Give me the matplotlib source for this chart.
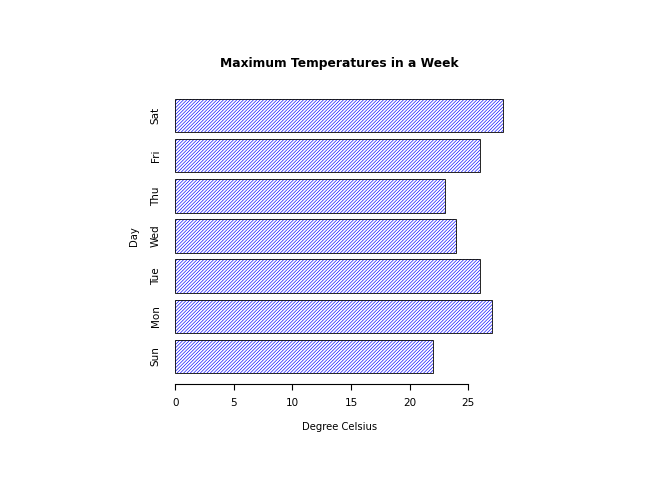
import matplotlib
matplotlib.use('Agg')
import matplotlib.pyplot as plt
import numpy as np

days = ['Sun', 'Mon', 'Tue', 'Wed', 'Thu', 'Fri', 'Sat']
max_temp = [22, 27, 26, 24, 23, 26, 28]
x_ticks = [0, 5, 10, 15, 20, 25]

plt.rcParams['hatch.linewidth'] = 0.45

fig = plt.figure(figsize=(6.54, 4.82), dpi=100)
ax = fig.add_axes([162 / 654, 98 / 482, 354.5 / 654, 296 / 482])

# R barplot layout: width 1, space 0.2
ypos = 0.7 + 1.2 * np.arange(len(days))
ax.barh(ypos, max_temp, height=1.0, facecolor='white', edgecolor='#0000ff',
        hatch='/' * 10, linewidth=0)
ax.barh(ypos, max_temp, height=1.0, facecolor='none', edgecolor='black',
        linewidth=0.6)

ax.set_xlim(-1.12, 29.12)
ax.set_ylim(-0.128, 8.728)

for s in ['top', 'right', 'left']:
    ax.spines[s].set_visible(False)
ax.spines['bottom'].set_bounds(0, 25)
ax.spines['bottom'].set_linewidth(0.8)
ax.set_xticks(x_ticks)
ax.tick_params(axis='x', length=4, width=0.8, labelsize=7.5, pad=6)
ax.set_yticks(ypos)
ax.set_yticklabels(days, rotation=90, va='center', fontsize=7.5)
ax.tick_params(axis='y', length=0, pad=1)

ax.set_xlabel('Degree Celsius', fontsize=7.2, labelpad=10)
ax.set_ylabel('Day', fontsize=7.2, labelpad=8)
ax.set_title('Maximum Temperatures in a Week', fontsize=8.8, fontweight='bold', pad=15)

fig.savefig('out.png', dpi=100)
